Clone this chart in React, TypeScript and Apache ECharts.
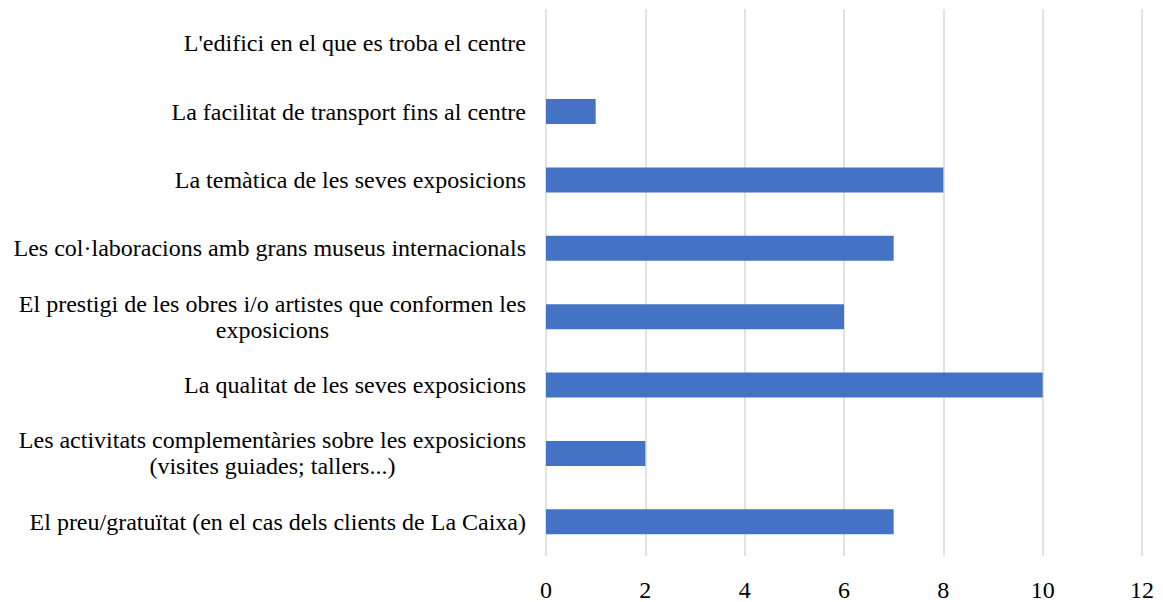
import React, { useEffect, useRef } from "react";
import * as echarts from "echarts";

const categories = [
  "L'edifici en el que es troba el centre",
  "La facilitat de transport fins al centre",
  "La temàtica de les seves exposicions",
  "Les col·laboracions amb grans museus internacionals",
  "El prestigi de les obres i/o artistes que conformen les\nexposicions",
  "La qualitat de les seves exposicions",
  "Les activitats complementàries sobre les exposicions\n(visites guiades; tallers...)",
  "El preu/gratuïtat (en el cas dels clients de La Caixa)",
];
const values = [0, 1, 8, 7, 6, 10, 2, 7];
const xMin = 0;
const xMax = 12;
const xStep = 2;

export default function App() {
  const ref = useRef<HTMLDivElement>(null);
  useEffect(() => {
    document.body.style.margin = "0";
    const chart = echarts.init(ref.current!, null, { renderer: "svg" });
    const font = "'Liberation Serif', 'Times New Roman', serif";
    chart.setOption({
      animation: false,
      grid: { left: 546, right: 21, top: 9, bottom: 39, containLabel: false },
      xAxis: {
        type: "value",
        min: xMin,
        max: xMax,
        interval: xStep,
        axisLine: { show: false },
        axisTick: { show: false },
        splitLine: { lineStyle: { color: "#d9d9d9", width: 1.5 } },
        axisLabel: { color: "#000", fontFamily: font, fontSize: 24, margin: 22 },
      },
      yAxis: {
        type: "category",
        inverse: true,
        data: categories,
        axisLine: { show: false },
        axisTick: { show: false },
        axisLabel: {
          color: "#000",
          fontFamily: font,
          fontSize: 24,
          margin: 20,
          lineHeight: 26,
          formatter: (v: string) => "{c|" + v + "}",
          rich: {
            c: { align: "center", fontFamily: font, fontSize: 24, lineHeight: 26, color: "#000" },
          },
        },
      },
      series: [
        {
          type: "bar",
          data: values,
          barWidth: 25,
          itemStyle: { color: "#4472C4" },
        },
      ],
    });
    return () => chart.dispose();
  }, []);
  return <div ref={ref} style={{ width: 1163, height: 602 }} />;
}
